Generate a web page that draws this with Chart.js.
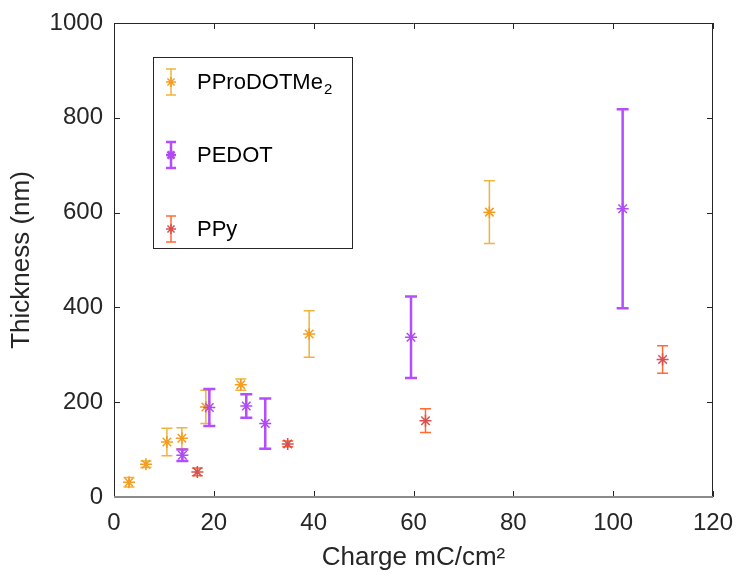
<!DOCTYPE html>
<html>
<head>
<meta charset="utf-8">
<script src="https://cdn.jsdelivr.net/npm/chart.js@4.4.1/dist/chart.umd.min.js"></script>
<style>
  html, body { margin: 0; padding: 0; background: #fff; }
  canvas { display: block; }
</style>
</head>
<body>
<canvas id="thicknessChart" width="738" height="575"></canvas>
<script>
// PProDOTMe2 series
const proX = [3.0, 6.4, 10.6, 13.6, 18.4, 25.4, 39.1, 75.2];
const proY = [31, 69, 116, 124, 190, 237, 344, 601];
const proErr = [10, 7, 29, 22, 35, 12, 49, 66];

// PEDOT series
const pedotX = [13.7, 19.1, 26.5, 30.3, 59.5, 101.9];
const pedotY = [88, 189, 192, 155, 337, 608];
const pedotErr = [12, 39, 25, 53, 86, 210];

// PPy series
const ppyX = [16.7, 34.8, 62.4, 109.9];
const ppyY = [53, 112, 161, 290];
const ppyErr = [8, 6, 25, 29];

const xTicks = [0, 20, 40, 60, 80, 100, 120];
const yTicks = [0, 200, 400, 600, 800, 1000];

const FONT = 'Liberation Sans, Arial, Helvetica, sans-serif';
const INK = '#262626';

function toPoints(xs, ys) {
  return xs.map((x, i) => ({ x: x, y: ys[i] }));
}

// series styles: error bar colour, marker colour, bar width, cap half width
const seriesStyle = [
  { label: 'PProDOTMe', sub: '2', err: proErr, bar: '#f0b43c', mark: '#f59d1e', lw: 1.5, cap: 5.5 },
  { label: 'PEDOT', sub: '', err: pedotErr, bar: '#b44cff', mark: '#b04af5', lw: 2.5, cap: 6 },
  { label: 'PPy', sub: '', err: ppyErr, bar: '#ff6a35', mark: '#d85050', lw: 1.5, cap: 5.5 }
];

// draws vertical error bars under the markers
const errorBars = {
  id: 'errorBars',
  beforeDatasetsDraw(chart) {
    const ctx = chart.ctx;
    const xs = chart.scales.x, ys = chart.scales.y;
    chart.data.datasets.forEach((ds, di) => {
      const st = seriesStyle[di];
      ctx.save();
      ctx.strokeStyle = st.bar;
      ctx.lineWidth = st.lw;
      ds.data.forEach((p, i) => {
        const px = xs.getPixelForValue(p.x);
        const top = ys.getPixelForValue(p.y + st.err[i]);
        const bot = ys.getPixelForValue(p.y - st.err[i]);
        ctx.beginPath();
        ctx.moveTo(px, top); ctx.lineTo(px, bot);
        ctx.moveTo(px - st.cap, top); ctx.lineTo(px + st.cap, top);
        ctx.moveTo(px - st.cap, bot); ctx.lineTo(px + st.cap, bot);
        ctx.stroke();
      });
      ctx.restore();
    });
  }
};

// box, inward ticks and the framed legend
const frame = {
  id: 'frame',
  afterDraw(chart) {
    const ctx = chart.ctx;
    const a = chart.chartArea;
    const xs = chart.scales.x, ys = chart.scales.y;
    ctx.save();
    ctx.strokeStyle = INK;
    ctx.lineWidth = 1;
    ctx.beginPath();
    ctx.moveTo(a.left + 0.5, a.bottom); ctx.lineTo(a.left + 0.5, a.top + 0.5);
    ctx.lineTo(a.right - 0.5, a.top + 0.5); ctx.lineTo(a.right - 0.5, a.bottom);
    xTicks.forEach(v => {
      const px = Math.round(xs.getPixelForValue(v)) + 0.5;
      ctx.moveTo(px, a.bottom); ctx.lineTo(px, a.bottom - 6);
      ctx.moveTo(px, a.top); ctx.lineTo(px, a.top + 6);
    });
    yTicks.forEach(v => {
      const py = Math.round(ys.getPixelForValue(v)) + 0.5;
      ctx.moveTo(a.left, py); ctx.lineTo(a.left + 6, py);
      ctx.moveTo(a.right, py); ctx.lineTo(a.right - 6, py);
    });
    ctx.stroke();
    ctx.strokeStyle = '#8a8a8a';
    ctx.lineWidth = 2;
    ctx.beginPath();
    ctx.moveTo(a.left, a.bottom); ctx.lineTo(a.right, a.bottom);
    ctx.stroke();

    // legend
    const lx = a.left + 39, ly = a.top + 34, lw = 199, lh = 191;
    ctx.strokeStyle = INK;
    ctx.lineWidth = 1;
    ctx.fillStyle = '#fff';
    ctx.fillRect(lx, ly, lw, lh);
    ctx.strokeRect(lx + 0.5, ly + 0.5, lw, lh);
    const rows = [ly + 25, ly + 98, ly + 172];
    seriesStyle.forEach((st, i) => {
      const cx = lx + 18, cy = rows[i];
      ctx.strokeStyle = st.bar;
      ctx.lineWidth = st.lw;
      ctx.beginPath();
      ctx.moveTo(cx, cy - 13); ctx.lineTo(cx, cy + 13);
      ctx.moveTo(cx - 5, cy - 13); ctx.lineTo(cx + 5, cy - 13);
      ctx.moveTo(cx - 5, cy + 13); ctx.lineTo(cx + 5, cy + 13);
      ctx.stroke();
      ctx.strokeStyle = st.mark;
      Chart.helpers.drawPoint(ctx, { pointStyle: 'star', radius: 5, borderWidth: 1.5 }, cx, cy);
      ctx.fillStyle = '#000';
      ctx.font = '22px ' + FONT;
      ctx.textBaseline = 'middle';
      ctx.textAlign = 'left';
      ctx.fillText(st.label, lx + 44, cy + 1);
      if (st.sub) {
        const w = ctx.measureText(st.label).width;
        ctx.font = '15px ' + FONT;
        ctx.fillText(st.sub, lx + 44 + w + 1, cy + 8);
      }
    });
    ctx.restore();
  }
};

new Chart(document.getElementById('thicknessChart').getContext('2d'), {
  type: 'scatter',
  data: {
    datasets: [
      { label: 'PProDOTMe2', data: toPoints(proX, proY), order: 3 },
      { label: 'PEDOT', data: toPoints(pedotX, pedotY), order: 2 },
      { label: 'PPy', data: toPoints(ppyX, ppyY), order: 1 }
    ].map((ds, i) => Object.assign(ds, {
      pointStyle: 'star',
      pointRadius: 6,
      pointBorderWidth: 1.5,
      borderColor: seriesStyle[i].mark,
      backgroundColor: seriesStyle[i].mark
    }))
  },
  options: {
    responsive: false,
    animation: false,
    layout: { padding: { left: 0, right: 25, top: 23, bottom: 0 } },
    plugins: {
      legend: { display: false },
      tooltip: { enabled: false }
    },
    scales: {
      x: {
        type: 'linear',
        min: 0, max: 120,
        afterBuildTicks: s => { s.ticks = xTicks.map(v => ({ value: v })); },
        afterFit: s => { s.height = 78; s.paddingLeft = 0; s.paddingRight = 0; },
        grid: { display: false, drawTicks: false },
        border: { display: false },
        ticks: { color: INK, font: { family: FONT, size: 24 }, padding: 12, maxRotation: 0, callback: v => String(v) },
        title: { display: true, text: 'Charge mC/cm²', color: INK, font: { family: FONT, size: 26 }, padding: { top: 0, bottom: 2 } }
      },
      y: {
        type: 'linear',
        min: 0, max: 1000,
        afterBuildTicks: s => { s.ticks = yTicks.map(v => ({ value: v })); },
        afterFit: s => { s.width = 114; s.paddingTop = 0; s.paddingBottom = 0; },
        grid: { display: false, drawTicks: false },
        border: { display: false },
        ticks: { color: INK, font: { family: FONT, size: 24 }, padding: 11, callback: v => String(v) },
        title: { display: true, text: 'Thickness (nm)', color: INK, font: { family: FONT, size: 26 }, padding: { top: 6, bottom: 0 } }
      }
    }
  },
  plugins: [errorBars, frame]
});
</script>
</body>
</html>
